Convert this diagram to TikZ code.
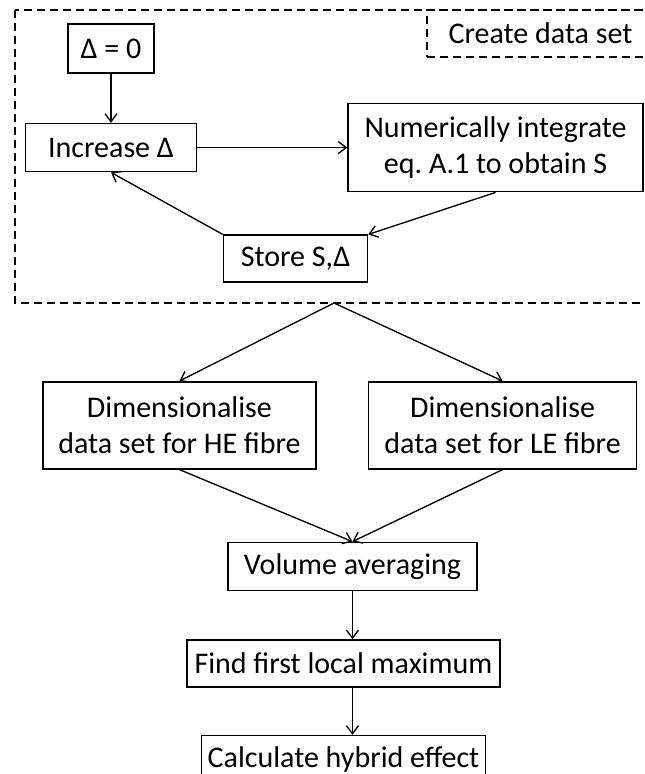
\documentclass[tikz,border=0pt]{standalone}
\usepackage{fontspec}
\setmainfont{Carlito}
\frenchspacing
\usetikzlibrary{arrows.meta, positioning}

\begin{document}
\begin{tikzpicture}[
    x=0.75pt, y=-0.75pt,
    box/.style={rectangle, draw, line width=1.2pt, align=center, inner sep=0pt,
        font=\fontsize{22.5}{27.5}\selectfont},
    frame/.style={draw, line width=1pt, dash pattern=on 6pt off 3.75pt},
    arrow/.style={->, >={Straight Barb[length=6pt,width=9pt]}, line width=1pt}
]
\useasboundingbox (0,0) rectangle (645,774);

% data set loop
\draw[frame] (15,10) rectangle (660,303);
\node[box, frame, minimum width=170.25pt, minimum height=35.25pt] (title) at (540.5,33.5) {Create data set};

\node[box, minimum width=64.5pt, minimum height=36.75pt] (zero) at (111,48.5) {Δ = 0};
\node[box, minimum width=128.25pt, minimum height=36pt, below=36.75pt of zero] (increase) {Increase Δ};
\node[box, minimum width=221.25pt, minimum height=66pt, right=112.5pt of increase] (integrate) {Numerically integrate\\eq. A.1 to obtain S};
\node[box, minimum width=108pt, minimum height=35.25pt, below=46.5pt of increase, xshift=138.4pt] (store) {Store S,Δ};

\coordinate (split) at (334,303);

% after the loop
\node[box, minimum width=204.75pt, minimum height=65.25pt, below=58.5pt of split, xshift=-115.9pt] (dimhe) {Dimensionalise\\data set for HE fibre};
\node[box, minimum width=201pt, minimum height=65.25pt, right=38.25pt of dimhe] (dimle) {Dimensionalise\\data set for LE fibre};
\node[box, minimum width=186.75pt, minimum height=36pt, below=54pt of dimhe, xshift=129.75pt] (average) {Volume averaging};
\node[box, minimum width=234.75pt, minimum height=35.25pt, below=36pt of average, xshift=-6.75pt] (maximum) {Find first local maximum};
\node[box, minimum width=213pt, minimum height=36pt, below=35.25pt of maximum] (hybrid) {Calculate hybrid effect};

\draw[arrow] (zero) -- (increase);
\draw[arrow] (increase.east) -- (increase.east -| integrate.west);
\draw[arrow] (integrate.south) -- (store.north east);
\draw[arrow] (store.north west) -- (increase.south);

\draw[arrow] (split) -- (dimhe.north);
\draw[arrow] (split) -- (dimle.north);
\draw[arrow] (dimhe.south) -- (average.north);
\draw[arrow] (dimle.south) -- (average.north);
\draw[arrow] (average.south) -- (average.south |- maximum.north);
\draw[arrow] (maximum.south -| average) -- (hybrid.north -| average);

\end{tikzpicture}
\end{document}
